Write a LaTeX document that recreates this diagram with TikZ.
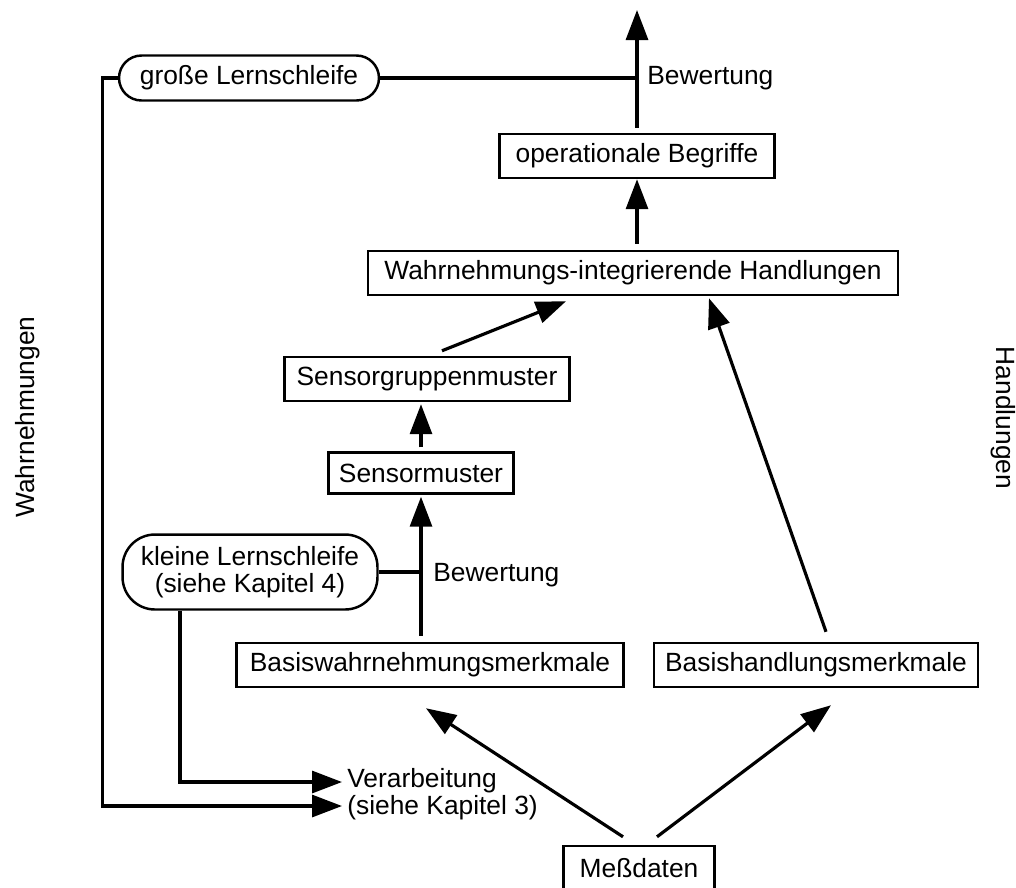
\documentclass[tikz,border=0pt]{standalone}
\usepackage{fontspec}
\setmainfont{Liberation Sans}
\usetikzlibrary{arrows.meta}
\tikzset{
  >={Triangle[length=0.6cm,width=0.44cm]},
}
\tikzstyle{every node}=[font=\fontsize{15}{15.4}\selectfont]
\tikzstyle{box}=[draw,line width=1.4pt,inner sep=0.15cm,minimum height=0.88cm]
\tikzstyle{lernbox}=[box,rounded corners=0.45cm]
\tikzstyle{wire}=[line width=1.8pt]
\tikzstyle{flow}=[wire,->]

\begin{document}
\begin{tikzpicture}[x=0.02cm,y=-0.02cm]
    \useasboundingbox (0,0) rectangle (1016,887);
    \node[lernbox,minimum width=5.2cm,minimum height=0.9cm] (gross) at (249,78) {große Lernschleife};
    \node[box,minimum width=5.5cm] (opb) at (637,156) {operationale Begriffe};
    \node[box,minimum width=10.6cm] (wint) at (633,273) {Wahrnehmungs-integrierende Handlungen};
    \node[box,minimum width=5.7cm] (sgm) at (427,379) {Sensorgruppenmuster};
    \node[box,minimum width=3.7cm,minimum height=0.82cm] (sm) at (421,473) {Sensormuster};
    \node[lernbox,rounded corners=0.65cm,minimum width=5.1cm,minimum height=1.5cm,align=center] (klein) at (250,572) {kleine Lernschleife\\(siehe Kapitel 4)};
    \node[box,minimum width=7.74cm] (bwm) at (430,665) {Basiswahrnehmungsmerkmale};
    \node[box,minimum width=6.48cm] (bhm) at (816,665) {Basishandlungsmerkmale};
    \node[box,minimum width=3.02cm] (mess) at (639,868) {Meßdaten};
    \node[anchor=west,inner sep=0,align=left] (verarb) at (347,794) {Verarbeitung\\(siehe Kapitel 3)};
    \node[anchor=west,inner sep=0] (bew1) at (647,78) {Bewertung};
    \node[anchor=west,inner sep=0] (bew2) at (433,575) {Bewertung};
    \node[rotate=90] (wahr) at (28,417) {Wahrnehmungen};
    \node[rotate=-90] (handl) at (1003,418) {Handlungen};
    \coordinate (top) at (637,10);

    % Hauptpfad nach oben
    \draw[flow,shorten <=0.1cm] (opb.north) -- (top);
    \draw[flow,shorten <=0.12cm] (opb.south |- wint.north) -- (opb.south);
    \draw[flow] ([xshift=0.3cm,yshift=0.1cm]sgm.north) -- ([xshift=-1.34cm,yshift=-0.1cm]wint.south);
    \draw[flow,shorten <=0.08cm,shorten >=0.04cm] (sm.north) -- (sm.north |- sgm.south);
    \draw[flow,shorten <=0.12cm,shorten >=0.04cm] (sm.south |- bwm.north) -- (sm.south);
    \draw[flow] ([xshift=0.2cm,yshift=0.2cm]bhm.north) -- ([xshift=1.52cm,yshift=-0.04cm]wint.south);
    \draw[flow] ([xshift=-0.32cm,yshift=0.16cm]mess.north) -- ([xshift=-0.08cm,yshift=-0.4cm]bwm.south);
    \draw[flow] ([xshift=0.36cm,yshift=0.16cm]mess.north) -- ([xshift=0.3cm,yshift=-0.34cm]bhm.south);

    % Lernschleifen
    \draw[wire] (gross.east) -- (gross.east -| opb.north);
    \draw[wire] (klein.east) -- (klein.east -| sm.south);
    \draw[flow] (gross.west) -- ++(-15,0) |- ([xshift=-0.1cm,yshift=-0.24cm]verarb.west);
    \draw[flow] ([xshift=-1.4cm]klein.south) |- ([xshift=-0.1cm,yshift=0.24cm]verarb.west);
\end{tikzpicture}
\end{document}
